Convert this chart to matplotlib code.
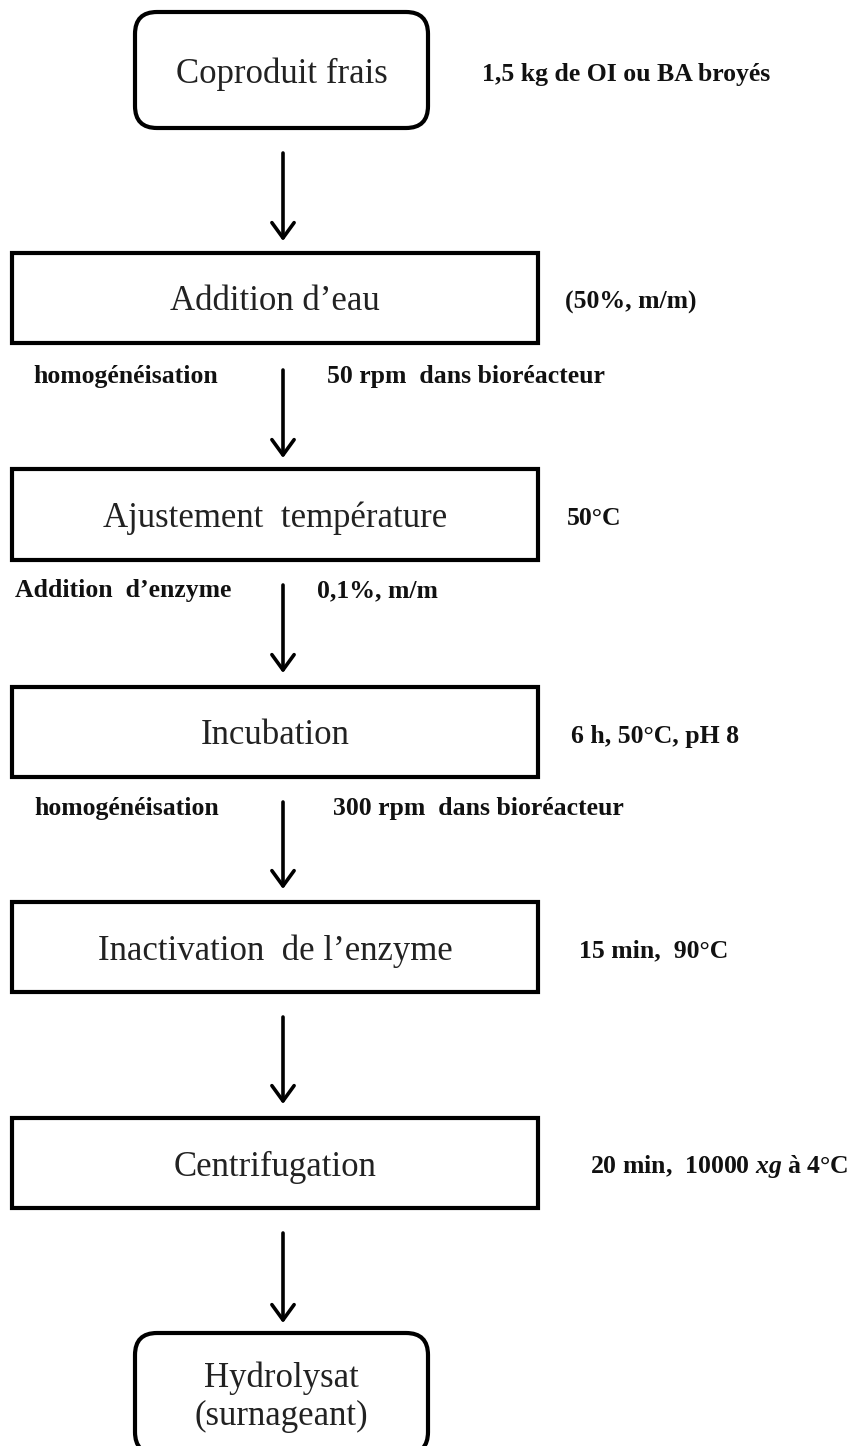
import matplotlib.pyplot as plt
from matplotlib.patches import FancyBboxPatch, Rectangle

plt.rcParams['font.family'] = ['Liberation Serif', 'DejaVu Serif']
plt.rcParams['mathtext.fontset'] = 'custom'
plt.rcParams['mathtext.it'] = 'Liberation Serif:italic:bold'
plt.rcParams['mathtext.rm'] = 'Liberation Serif:bold'

# Process steps and their annotations
steps = ["Coproduit frais", "Addition d\u2019eau", "Ajustement  temp\u00e9rature",
         "Incubation", "Inactivation  de l\u2019enzyme", "Centrifugation",
         "Hydrolysat\n(surnageant)"]
conditions = ["1,5 kg de OI ou BA broy\u00e9s", "(50%, m/m)", "50\u00b0C",
              "6 h, 50\u00b0C, pH 8", "15 min,  90\u00b0C",
              "20 min,  10000 $xg$ \u00e0 4\u00b0C", ""]
arrow_left = ["", "homog\u00e9n\u00e9isation", "Addition  d\u2019enzyme",
              "homog\u00e9n\u00e9isation", "", ""]
arrow_right = ["", "50 rpm  dans bior\u00e9acteur", "0,1%, m/m",
               "300 rpm  dans bior\u00e9acteur", "", ""]

# layout (pixel coords, y downwards)
box_x = [(135, 428), (12, 538), (12, 538), (12, 538), (12, 538), (12, 538), (135, 428)]
box_y = [(12, 128), (253, 343), (469, 560), (687, 777), (902, 992), (1118, 1208), (1333, 1454)]
rounded = [True, False, False, False, False, False, True]
cond_x = [482, 565, 567, 571, 579, 590, 0]
arrow_y = [(153, 241), (370, 458), (585, 673), (802, 889), (1017, 1104), (1233, 1323)]
note_left_x = [0, 33, 15, 34, 0, 0]
note_right_x = [0, 327, 317, 333, 0, 0]
arrow_x = 283

fig = plt.figure(figsize=(8.54, 14.46), dpi=100)
ax = fig.add_axes([0, 0, 1, 1])
ax.set_xlim(0, 854)
ax.set_ylim(1446, 0)
ax.axis('off')

for i, name in enumerate(steps):
    x0, x1 = box_x[i]
    y0, y1 = box_y[i]
    if rounded[i]:
        patch = FancyBboxPatch((x0, y0), x1 - x0, y1 - y0,
                               boxstyle="round,pad=0,rounding_size=22",
                               fc='white', ec='black', lw=3)
    else:
        patch = Rectangle((x0, y0), x1 - x0, y1 - y0, fc='white', ec='black', lw=3)
    ax.add_patch(patch)
    cy = (y0 + y1) / 2 + 4
    if i == len(steps) - 1:
        cy = 1397
    ax.text((x0 + x1) / 2, cy, name, ha='center', va='center',
            fontsize=25, color='#222222', linespacing=1.2)
    if conditions[i]:
        ax.text(cond_x[i], cy, conditions[i], ha='left', va='center',
                fontsize=18.5, fontweight='bold', color='#111111')

for i, (ya, yb) in enumerate(arrow_y):
    ax.annotate('', xy=(arrow_x, yb), xytext=(arrow_x, ya),
                arrowprops=dict(arrowstyle='->,head_length=0.55,head_width=0.4',
                                lw=2.6, color='black', mutation_scale=20,
                                shrinkA=0, shrinkB=0))
    ty = ya + 6
    if arrow_left[i]:
        ax.text(note_left_x[i], ty, arrow_left[i], ha='left', va='center',
                fontsize=18.5, fontweight='bold', color='#111111')
    if arrow_right[i]:
        ax.text(note_right_x[i], ty, arrow_right[i], ha='left', va='center',
                fontsize=18.5, fontweight='bold', color='#111111')

fig.savefig('out.png', dpi=100, facecolor='white')
